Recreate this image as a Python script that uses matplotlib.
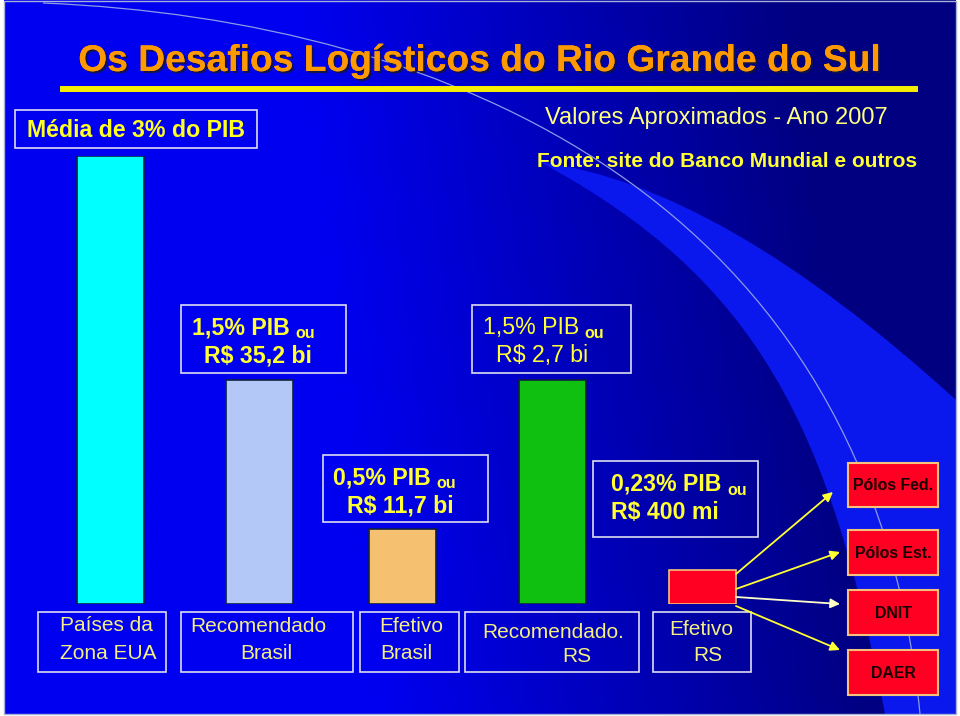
import matplotlib
matplotlib.use("Agg")
import matplotlib.pyplot as plt
import numpy as np
from matplotlib.patches import Rectangle, PathPatch
from matplotlib.path import Path
import matplotlib.patheffects as pe

plt.rcParams['font.family'] = ['Liberation Sans', 'DejaVu Sans']

# dados (% do PIB)
categorias = [["Países da", "Zona EUA"],
              ["Recomendado", "Brasil"],
              ["Efetivo", "Brasil"],
              ["Recomendado.", "RS"],
              ["Efetivo", "RS"]]
valores = [3.0, 1.5, 0.5, 1.5, 0.23]
rotulos = [["1,5% PIB", "R$ 35,2 bi"],
           ["0,5% PIB", "R$ 11,7 bi"],
           ["1,5% PIB", "R$ 2,7 bi"],
           ["0,23% PIB", "R$ 400 mi"]]
destinos = ["Pólos Fed.", "Pólos Est.", "DNIT", "DAER"]

cores = ["#00FFFF", "#B4C8F8", "#F5C070", "#10C010", "#FF0022"]
bordas = ["#102040", "#102040", "#102040", "#102040", "#F4C27A"]
slot_x = [110, 259, 402, 552, 702]   # centro de cada coluna (px)

W, H = 960, 716
fig = plt.figure(figsize=(9.6, 7.16), dpi=100, facecolor="white")

# fundo do slide
bg = fig.add_axes([0, 0, 1, 1])
bg.set_xlim(0, W)
bg.set_ylim(H, 0)
bg.axis("off")
xx, yy = np.meshgrid(np.linspace(4, 956, 400), np.linspace(0, 714, 300))
t = np.clip((xx - 300 - yy / 716 * 80) / 500, 0, 1)
img = np.zeros(xx.shape + (3,))
img[..., 2] = (240 * (1 - t) + 128 * t) / 255
bg.imshow(img, extent=(4, 956, 714, 0), aspect="auto", interpolation="bilinear", zorder=0)
faixa = Path([(540, 162), (720, 185), (956, 400), (956, 714), (885, 714),
              (830, 430), (760, 280), (540, 162), (540, 162)],
             [Path.MOVETO, Path.CURVE3, Path.CURVE3, Path.LINETO, Path.LINETO,
              Path.CURVE4, Path.CURVE4, Path.CURVE4, Path.CLOSEPOLY])
bg.add_patch(PathPatch(faixa, facecolor="#0A18EE", edgecolor="none", zorder=1))
arco = Path([(43, 3), (450, 20), (870, 200), (920, 714)],
            [Path.MOVETO, Path.CURVE4, Path.CURVE4, Path.CURVE4])
bg.add_patch(PathPatch(arco, facecolor="none", edgecolor="#8C9BE6", lw=0.9, zorder=2))
bg.add_patch(Rectangle((4, 1), 952, 713, facecolor="none", edgecolor="#A8B0D8", lw=1, zorder=3))

# barras
ax = fig.add_axes([0, (H - 604) / H, 1, 448 / H])
ax.set_xlim(0, W)
ax.set_ylim(0, 3)
ax.axis("off")
ax.patch.set_alpha(0)
ax.bar(slot_x, valores, width=67, color=cores, edgecolor=bordas, linewidth=1.2)

# textos e caixas
ov = fig.add_axes([0, 0, 1, 1])
ov.set_xlim(0, W)
ov.set_ylim(H, 0)
ov.axis("off")
ov.patch.set_alpha(0)

def caixa(x0, y0, x1, y1, fc="none", ec="#DCDCF0", lw=1.2):
    ov.add_patch(Rectangle((x0, y0), x1 - x0, y1 - y0, facecolor=fc, edgecolor=ec, lw=lw))

ov.text(480, 71, "Os Desafios Logísticos do Rio Grande do Sul", ha="center", va="baseline",
        fontsize=26.8, fontweight="bold", color="#FF9900",
        path_effects=[pe.withSimplePatchShadow(offset=(1.5, -1.5), shadow_rgbFace="#151540", alpha=0.9),
                      pe.Normal()])
ov.plot([60, 918], [89, 89], color="#F5EE00", lw=4.3, solid_capstyle="butt")

ov.text(716, 124, "Valores Aproximados - Ano 2007", ha="center", va="baseline",
        fontsize=17, color="#FFFF80")
ov.text(727, 167, "Fonte: site do Banco Mundial e outros", ha="center", va="baseline",
        fontsize=15, fontweight="bold", color="#FFFF33")

caixa(15, 110, 257, 148)
ov.text(27, 137, "Média de 3% do PIB", va="baseline", fontsize=16.7,
        fontweight="bold", color="#FFFF22")

# caixas de valores
box_val = [(181, 305, 346, 373), (323, 455, 488, 522), (472, 305, 631, 373), (593, 461, 758, 537)]
txt_pos = [((192, 334), (204, 362)), ((333, 484), (347, 512)),
           ((483, 334), (496, 362)), ((611, 491), (611, 519))]
pesos = ["bold", "bold", "normal", "bold"]
for (x0, y0, x1, y1), (p1, p2), (l1, l2), w in zip(box_val, txt_pos, rotulos, pesos):
    caixa(x0, y0, x1, y1)
    t1 = ov.text(p1[0], p1[1], l1, va="baseline", fontsize=16.7, fontweight=w, color="#FFFF33")
    ov.annotate("ou", xy=(1, 0), xycoords=t1, xytext=(4, -1.1), textcoords="offset points",
                va="bottom", fontsize=11.5, fontweight="bold", color="#FFFF33")
    ov.text(p2[0], p2[1], l2, va="baseline", fontsize=16.7, fontweight=w, color="#FFFF33")

# rótulos das colunas
box_cat = [(38, 166), (181, 353), (360, 459), (465, 639), (653, 751)]
cat_pos = [((60, 631), (60, 659)), ((190, 632), (240, 659)), ((379, 632), (380, 659)),
           ((482, 638), (562, 662)), ((669, 635), (693, 661))]
for (x0, x1), (p1, p2), (l1, l2) in zip(box_cat, cat_pos, categorias):
    caixa(x0, 612, x1, 672)
    ov.text(p1[0], p1[1], l1, va="baseline", fontsize=15, color="#F5EE82")
    ov.text(p2[0], p2[1], l2, va="baseline", fontsize=15, color="#F5EE82")

# destinos do RS
box_dest = [(463, 507), (530, 575), (590, 635), (650, 695)]
setas = [((736, 574), (833, 492)), ((736, 589), (840, 552)),
         ((736, 597), (840, 604)), ((736, 606), (840, 650))]
cor_seta = ["#FFFF33", "#FFFF33", "#FFFFC8", "#FFFF33"]
for (y0, y1), nome, (a, b), cs in zip(box_dest, destinos, setas, cor_seta):
    caixa(848, y0, 938, y1, fc="#FF0022", ec="#F4C27A", lw=1.5)
    ov.text(893, (y0 + y1) / 2 + 1, nome, ha="center", va="center", fontsize=11.4,
            fontweight="bold", color="#1A0000")
    ov.annotate("", xy=b, xytext=a,
                arrowprops=dict(arrowstyle="-|>", color=cs, lw=1.3, mutation_scale=14,
                                shrinkA=0, shrinkB=0))

fig.savefig("out.png", dpi=100, facecolor="white")
